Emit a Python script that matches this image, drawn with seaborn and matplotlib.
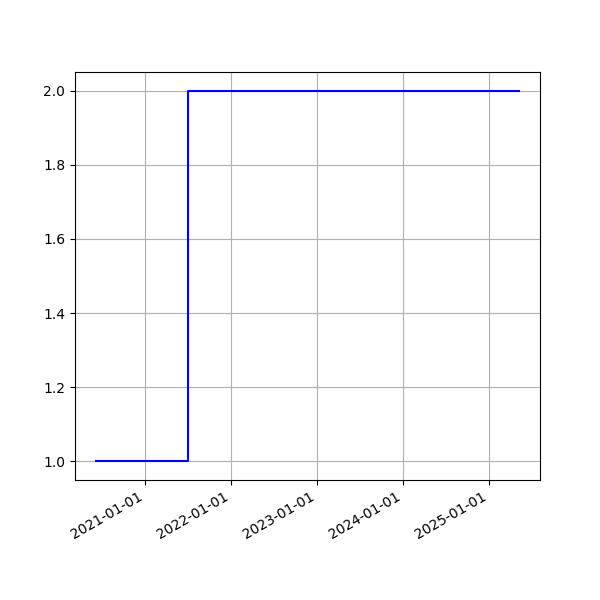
import pandas as pd
import matplotlib
matplotlib.use("Agg")
import matplotlib.pyplot as plt
import matplotlib.dates as mdates
import seaborn as sns

# step data
dates = ["2020-06-08", "2021-07-01", "2025-05-08"]
values = [1.0, 2.0, 2.0]

df = pd.DataFrame({"date": pd.to_datetime(dates), "value": values})

fig, ax = plt.subplots(figsize=(6, 6), dpi=100)
sns.lineplot(data=df, x="date", y="value", ax=ax, color="blue",
             drawstyle="steps-post", estimator=None)
ax.xaxis.set_major_locator(mdates.YearLocator())
ax.xaxis.set_major_formatter(mdates.DateFormatter("%Y-%m-%d"))
ax.set_xlabel("")
ax.set_ylabel("")
ax.grid(True)
fig.autofmt_xdate()
fig.savefig("out.png")
